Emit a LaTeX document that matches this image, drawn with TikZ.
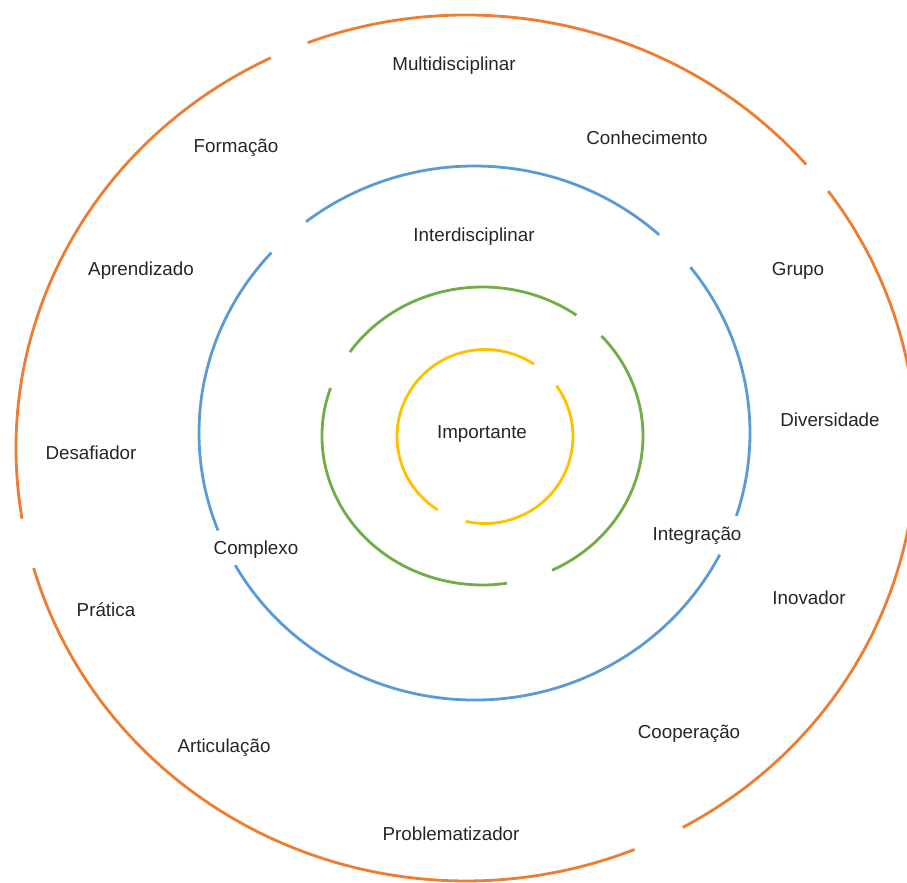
\documentclass[tikz,border=0pt]{standalone}
\usepackage{fontspec}
\setmainfont{Liberation Sans}
\usetikzlibrary{positioning}

\definecolor{ringorange}{HTML}{ED7D31}
\definecolor{ringblue}{HTML}{5B9BD5}
\definecolor{ringgreen}{HTML}{70AD47}
\definecolor{ringyellow}{HTML}{FFC000}

\begin{document}
\begin{tikzpicture}[
            x=0.5pt, y=0.5pt,
            ring/.style={line width=1.4pt},
            word/.style={inner sep=0pt, yshift=-1pt, text=black!85, font=\fontsize{9.4}{11}\selectfont},
        ]
            \useasboundingbox (0,0) rectangle (907,883);
            \clip (0,0) rectangle (907,883);

            % Outer ring, broken in four places
            \foreach \a / \b in {298.8/396.4, 40.9/110.6, 115.7/189.4, 196.1/292}
                \draw[ring, ringorange] (466,435) ++(\a:450 and 433)
                    arc[start angle=\a, end angle=\b, x radius=450, y radius=433];

            % Second ring
            \foreach \a / \b in {47.9/127.7, 137.5/201.4, 209.7/332.9, 341.9/398.4}
                \draw[ring, ringblue] (474.5,450) ++(\a:275.5 and 267)
                    arc[start angle=\a, end angle=\b, x radius=275.5, y radius=267];

            % Third ring
            \foreach \a / \b in {54.2/145.7, 161.2/278.8, 295.7/402.2}
                \draw[ring, ringgreen] (482.5,447) ++(\a:160.5 and 149)
                    arc[start angle=\a, end angle=\b, x radius=160.5, y radius=149];

            % Inner ring
            \foreach \a / \b in {56.1/237.4, 257.3/395.7}
                \draw[ring, ringyellow] (485,446.5) ++(\a:88 and 87)
                    arc[start angle=\a, end angle=\b, x radius=88, y radius=87];

            % Words of each ring
            \node[word] (importante) at (482,451) {Importante};

            \foreach \name / \x / \y / \txt in {
                    interdisciplinar/474/648/Interdisciplinar,
                    complexo/256/335/Complexo,
                    integracao/697/349/Integração}
                \node[word] (\name) at (\x,\y) {\txt};

            \foreach \name / \x / \y / \txt in {
                    multidisciplinar/454/819/Multidisciplinar,
                    conhecimento/647/747/Conhecimento,
                    formacao/236/737/Formação,
                    aprendizado/141/614/Aprendizado,
                    grupo/798/614/Grupo,
                    diversidade/830/465/Diversidade,
                    desafiador/91/432/Desafiador,
                    inovador/809/287/Inovador,
                    pratica/106/275/Prática,
                    articulacao/224/137/Articulação,
                    cooperacao/689/151/Cooperação,
                    problematizador/451/51/Problematizador}
                \node[word] (\name) at (\x,\y) {\txt};
        \end{tikzpicture}
\end{document}
